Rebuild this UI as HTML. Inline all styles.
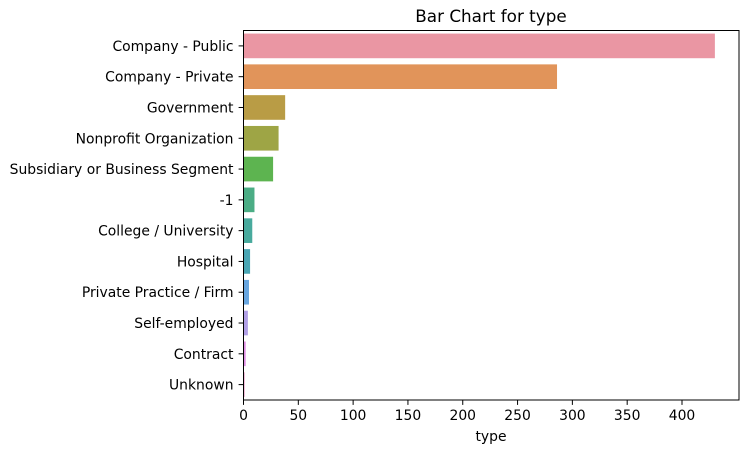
<!DOCTYPE html>
<html><head><meta charset="utf-8"><style>
html,body{margin:0;padding:0;background:#fff;}
svg text{font-family:"DejaVu Sans","Liberation Sans",sans-serif;fill:#000;}
</style></head><body>
<svg id="chart" width="749" height="453" xmlns="http://www.w3.org/2000/svg">
<text x="491" y="22" font-size="16.8" text-anchor="middle">Bar Chart for type</text>
<g id="bars"></g>
<g id="yticks"></g>
<g id="xticks"></g>
<rect x="243.5" y="30.5" width="495.5" height="369.5" fill="none" stroke="#000" stroke-width="1"/>
<text x="491" y="441" font-size="13.9" text-anchor="middle">type</text>
</svg>
<script>
const categories=["Company - Public","Company - Private","Government","Nonprofit Organization","Subsidiary or Business Segment","-1","College / University","Hospital","Private Practice / Firm","Self-employed","Contract","Unknown"];
const counts=[430,286,38,32,27,10,8,6,5,4,2,1];
const colors=["#ea96a3","#e1945a","#b99c45","#9ea545","#5db450","#4bad85","#48aa9d","#4aa6b4","#68a6e0","#b09fe6","#df8ee4","#e88fc0"];
const xTickValues=[0,50,100,150,200,250,300,350,400];
const X0=243.5,X1=739,Y0=30.5,Y1=400,XMAX=452;
const NS="http://www.w3.org/2000/svg";
function xs(v){return X0+v/XMAX*(X1-X0);}
const band=(Y1-Y0)/categories.length;
function yc(i){return Y0+band*(i+0.5);}
const gb=document.getElementById('bars'),gy=document.getElementById('yticks'),gx=document.getElementById('xticks');
categories.forEach((c,i)=>{
  const r=document.createElementNS(NS,'rect');
  r.setAttribute('x',X0);r.setAttribute('y',yc(i)-band*0.4);
  r.setAttribute('width',xs(counts[i])-X0);r.setAttribute('height',band*0.8);
  r.setAttribute('fill',colors[i]);
  
  
  gb.appendChild(r);
  const l=document.createElementNS(NS,'line');
  l.setAttribute('x1',X0-4.9);l.setAttribute('x2',X0);l.setAttribute('y1',yc(i));l.setAttribute('y2',yc(i));l.setAttribute('stroke','#000');
  gy.appendChild(l);
  const t=document.createElementNS(NS,'text');
  t.setAttribute('x',X0-10);t.setAttribute('y',yc(i)+5);t.setAttribute('text-anchor','end');t.setAttribute('font-size','13.9');
  t.textContent=c;
  
  
  gy.appendChild(t);
});
xTickValues.forEach(v=>{
  const l=document.createElementNS(NS,'line');
  l.setAttribute('x1',xs(v));l.setAttribute('x2',xs(v));l.setAttribute('y1',Y1);l.setAttribute('y2',Y1+4.9);l.setAttribute('stroke','#000');
  gx.appendChild(l);
  const t=document.createElementNS(NS,'text');
  t.setAttribute('x',xs(v));t.setAttribute('y',Y1+20);t.setAttribute('text-anchor','middle');t.setAttribute('font-size','13.9');
  t.textContent=v;
  
  
  gx.appendChild(t);
});
</script>
</body></html>
